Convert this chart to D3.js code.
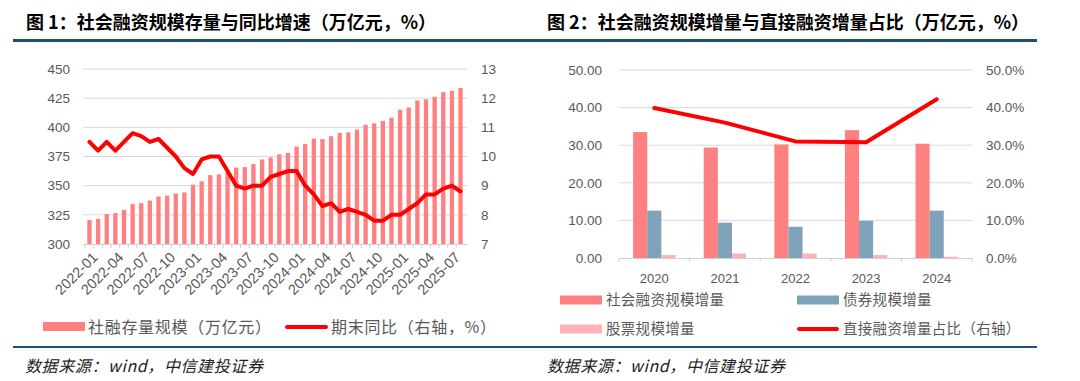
<!DOCTYPE html>
<html>
<head>
<meta charset="utf-8">
<script src="https://cdn.jsdelivr.net/npm/d3@7"></script>
<style>
  body { margin: 0; background: #fff; }
  svg { display: block; }
</style>
</head>
<body>
<div id="chart"></div>
<script>
// ---- data: figure 1 ----
var months = [
  '2022-01','2022-02','2022-03','2022-04','2022-05','2022-06','2022-07','2022-08','2022-09','2022-10','2022-11','2022-12',
  '2023-01','2023-02','2023-03','2023-04','2023-05','2023-06','2023-07','2023-08','2023-09','2023-10','2023-11','2023-12',
  '2024-01','2024-02','2024-03','2024-04','2024-05','2024-06','2024-07','2024-08','2024-09','2024-10','2024-11','2024-12',
  '2025-01','2025-02','2025-03','2025-04','2025-05','2025-06','2025-07','2025-08'
];
var stock = [
  320.6, 321.5, 325.6, 326.5, 329.2, 334.3, 335.0, 337.2, 340.7, 341.4, 343.2, 344.2,
  350.9, 353.8, 359.0, 359.6, 361.4, 365.5, 365.9, 368.5, 372.5, 374.2, 376.8, 378.1,
  383.5, 385.6, 390.4, 389.9, 392.4, 395.1, 395.7, 398.1, 402.2, 403.4, 405.6, 408.3,
  415.1, 417.0, 423.0, 424.0, 426.2, 430.2, 431.3, 433.7
];
var growth = [
  10.5, 10.2, 10.5, 10.2, 10.5, 10.8, 10.7, 10.5, 10.6, 10.3, 10.0, 9.6,
  9.4, 9.9, 10.0, 10.0, 9.5, 9.0, 8.9, 9.0, 9.0, 9.3, 9.4, 9.5,
  9.5, 9.0, 8.7, 8.3, 8.4, 8.1, 8.2, 8.1, 8.0, 7.8, 7.8, 8.0,
  8.0, 8.2, 8.4, 8.7, 8.7, 8.9, 9.0, 8.8
];
var leftTicks = [300, 325, 350, 375, 400, 425, 450];
var rightTicks = [7, 8, 9, 10, 11, 12, 13];

// ---- data: figure 2 ----
var years = ['2020', '2021', '2022', '2023', '2024'];
var tsfIncr = [33.5, 29.4, 30.2, 34.0, 30.4];
var bondIncr = [12.6, 9.4, 8.3, 9.9, 12.6];
var equityIncr = [0.8, 1.2, 1.2, 0.8, 0.35];
var directShare = [39.9, 36.0, 31.0, 30.8, 42.2];
var amtTicks = [0, 10, 20, 30, 40, 50];
var pctTicks = [0, 10, 20, 30, 40, 50];

var cjk = '"Noto Sans CJK SC", "Noto Sans", sans-serif';
var num = '"Liberation Sans", Arial, sans-serif';
var grey = '#595959';
var gridCol = '#d9d9d9';
var barRed = '#ff8080';
var barBlue = '#7fa3ba';
var barPink = '#ffb3b6';
var lineRed = '#ff0000';
var navy = '#1f4e79';

var svg = d3.select('#chart').append('svg')
  .attr('width', 1080)
  .attr('height', 381);

// titles, rules and source notes
svg.append('text').attr('x', 26).attr('y', 29)
  .attr('font-family', cjk).attr('font-size', 18).attr('font-weight', 'bold').attr('fill', '#000')
  .text('图 1：社会融资规模存量与同比增速（万亿元，%）');
svg.append('text').attr('x', 547).attr('y', 29)
  .attr('font-family', cjk).attr('font-size', 18).attr('font-weight', 'bold').attr('fill', '#000')
  .text('图 2：社会融资规模增量与直接融资增量占比（万亿元，%）');
svg.append('rect').attr('x', 13).attr('y', 39).attr('width', 1024).attr('height', 3).attr('fill', navy);
svg.append('rect').attr('x', 13).attr('y', 346).attr('width', 1024).attr('height', 2).attr('fill', navy);
[25, 547].forEach(function(x) {
  svg.append('text').attr('x', x).attr('y', 372)
    .attr('font-family', cjk).attr('font-size', 16).attr('font-style', 'italic')
    .attr('letter-spacing', 0.6).attr('fill', '#222')
    .text('数据来源：wind，中信建投证券');
});

// ================= figure 1 =================
var x1 = d3.scaleBand().domain(months).range([83, 467]).padding(0.5);
var y1 = d3.scaleLinear().domain([300, 450]).range([244, 69]);
var y1r = d3.scaleLinear().domain([7, 13]).range([244, 69]);
var g1 = svg.append('g');

g1.selectAll('.grid1')
  .data(leftTicks.slice(1))
  .enter().append('line')
  .attr('x1', 83).attr('x2', 467)
  .attr('y1', function(d) { return y1(d); })
  .attr('y2', function(d) { return y1(d); })
  .attr('stroke', gridCol).attr('stroke-width', 1);

g1.selectAll('.bar1')
  .data(stock)
  .enter().append('rect')
  .attr('x', function(d, i) { return x1(months[i]); })
  .attr('width', x1.bandwidth())
  .attr('y', function(d) { return y1(d); })
  .attr('height', function(d) { return y1(300) - y1(d); })
  .attr('fill', barRed);

// baseline with month ticks
g1.append('line').attr('x1', 83).attr('x2', 467).attr('y1', 244.5).attr('y2', 244.5)
  .attr('stroke', '#d0d0d0').attr('stroke-width', 1);
g1.selectAll('.tick1')
  .data(months)
  .enter().append('line')
  .attr('x1', function(d) { return x1(d) - x1.step() * 0.25; })
  .attr('x2', function(d) { return x1(d) - x1.step() * 0.25; })
  .attr('y1', 244).attr('y2', 248)
  .attr('stroke', '#d0d0d0');

var line1 = d3.line()
  .x(function(d, i) { return x1(months[i]) + x1.bandwidth() / 2; })
  .y(function(d) { return y1r(d); });
g1.append('path').datum(growth)
  .attr('d', line1)
  .attr('fill', 'none').attr('stroke', lineRed).attr('stroke-width', 4)
  .attr('stroke-linejoin', 'round').attr('stroke-linecap', 'round');

var axL = g1.append('g').attr('transform', 'translate(70,0)')
  .call(d3.axisLeft(y1).tickValues(leftTicks).tickFormat(d3.format('d')).tickSize(0).tickPadding(0));
var axR = g1.append('g').attr('transform', 'translate(481,0)')
  .call(d3.axisRight(y1r).tickValues(rightTicks).tickFormat(d3.format('d')).tickSize(0).tickPadding(0));
[axL, axR].forEach(function(a) {
  a.select('.domain').remove();
  a.selectAll('text').attr('fill', grey).attr('font-family', num).attr('font-size', 13.5);
});

g1.selectAll('.xlab1')
  .data(months.filter(function(d, i) { return i % 3 === 0; }))
  .enter().append('text')
  .attr('transform', function(d) {
    return 'translate(' + (x1(d) + x1.bandwidth() / 2 + 2) + ',251) rotate(-45)';
  })
  .attr('text-anchor', 'end')
  .attr('dy', '0.7em')
  .attr('font-family', num).attr('font-size', 14.5).attr('fill', grey)
  .text(function(d) { return d; });

// legend 1
g1.append('rect').attr('x', 43).attr('y', 322).attr('width', 42).attr('height', 9).attr('fill', barRed);
g1.append('text').attr('x', 88).attr('y', 332.5)
  .attr('font-family', cjk).attr('font-size', 16).attr('letter-spacing', 0.7).attr('fill', grey)
  .text('社融存量规模（万亿元）');
g1.append('line').attr('x1', 287).attr('x2', 326).attr('y1', 327).attr('y2', 327)
  .attr('stroke', lineRed).attr('stroke-width', 4).attr('stroke-linecap', 'round');
g1.append('text').attr('x', 331).attr('y', 332.5)
  .attr('font-family', cjk).attr('font-size', 16).attr('letter-spacing', 0.7).attr('fill', grey)
  .text('期末同比（右轴，%）');

// ================= figure 2 =================
var x2 = d3.scaleBand().domain(years).range([619, 972]).padding(0);
var bw2 = x2.bandwidth() * 0.6;
var series = ['tsf', 'bond', 'equity'];
var xs = d3.scaleBand().domain(series).range([0, bw2]).padding(0);
var y2 = d3.scaleLinear().domain([0, 50]).range([258, 70]);
var y2r = d3.scaleLinear().domain([0, 50]).range([258, 70]);
var g2 = svg.append('g');

g2.selectAll('.grid2')
  .data(amtTicks.slice(1))
  .enter().append('line')
  .attr('x1', 619).attr('x2', 972)
  .attr('y1', function(d) { return y2(d); })
  .attr('y2', function(d) { return y2(d); })
  .attr('stroke', gridCol).attr('stroke-width', 1);

var seriesVals = { tsf: tsfIncr, bond: bondIncr, equity: equityIncr };
var seriesCol = { tsf: barRed, bond: barBlue, equity: barPink };
series.forEach(function(s) {
  g2.selectAll('.bar-' + s)
    .data(seriesVals[s])
    .enter().append('rect')
    .attr('x', function(d, i) { return x2(years[i]) + x2.bandwidth() * 0.2 + xs(s); })
    .attr('width', xs.bandwidth())
    .attr('y', function(d) { return y2(d); })
    .attr('height', function(d) { return y2(0) - y2(d); })
    .attr('fill', seriesCol[s]);
});

g2.append('line').attr('x1', 619).attr('x2', 972).attr('y1', 258.5).attr('y2', 258.5)
  .attr('stroke', '#d0d0d0');
g2.selectAll('.tick2')
  .data(years.concat(['end']))
  .enter().append('line')
  .attr('x1', function(d, i) { return 619 + i * x2.step(); })
  .attr('x2', function(d, i) { return 619 + i * x2.step(); })
  .attr('y1', 258).attr('y2', 262)
  .attr('stroke', '#d0d0d0');

var line2 = d3.line()
  .x(function(d, i) { return x2(years[i]) + x2.bandwidth() / 2; })
  .y(function(d) { return y2r(d); });
g2.append('path').datum(directShare)
  .attr('d', line2)
  .attr('fill', 'none').attr('stroke', lineRed).attr('stroke-width', 4)
  .attr('stroke-linejoin', 'round').attr('stroke-linecap', 'round');

var axL2 = g2.append('g').attr('transform', 'translate(602,0)')
  .call(d3.axisLeft(y2).tickValues(amtTicks).tickFormat(d3.format('.2f')).tickSize(0).tickPadding(0));
var axR2 = g2.append('g').attr('transform', 'translate(986,0)')
  .call(d3.axisRight(y2r).tickValues(pctTicks).tickFormat(function(d) { return d.toFixed(1) + '%'; }).tickSize(0).tickPadding(0));
[axL2, axR2].forEach(function(a) {
  a.select('.domain').remove();
  a.selectAll('text').attr('fill', grey).attr('font-family', num).attr('font-size', 13.5);
});

g2.selectAll('.xlab2')
  .data(years)
  .enter().append('text')
  .attr('x', function(d) { return x2(d) + x2.bandwidth() / 2; })
  .attr('y', 283)
  .attr('text-anchor', 'middle')
  .attr('font-family', num).attr('font-size', 13).attr('fill', grey)
  .text(function(d) { return d; });

// legend 2
var leg2 = [
  { label: '社会融资规模增量', col: barRed, type: 'rect', x: 560, y: 300 },
  { label: '债券规模增量', col: barBlue, type: 'rect', x: 797, y: 300 },
  { label: '股票规模增量', col: barPink, type: 'rect', x: 560, y: 329 },
  { label: '直接融资增量占比（右轴）', col: lineRed, type: 'line', x: 797, y: 329 }
];
leg2.forEach(function(d) {
  if (d.type === 'rect') {
    g2.append('rect').attr('x', d.x).attr('y', d.y - 4.5).attr('width', 42).attr('height', 9).attr('fill', d.col);
  } else {
    g2.append('line').attr('x1', d.x + 2).attr('x2', d.x + 40).attr('y1', d.y).attr('y2', d.y)
      .attr('stroke', d.col).attr('stroke-width', 4).attr('stroke-linecap', 'round');
  }
  g2.append('text').attr('x', d.x + 46).attr('y', d.y + 5)
    .attr('font-family', cjk).attr('font-size', 14.5).attr('letter-spacing', 0.3).attr('fill', grey)
    .text(d.label);
});
</script>
</body>
</html>
